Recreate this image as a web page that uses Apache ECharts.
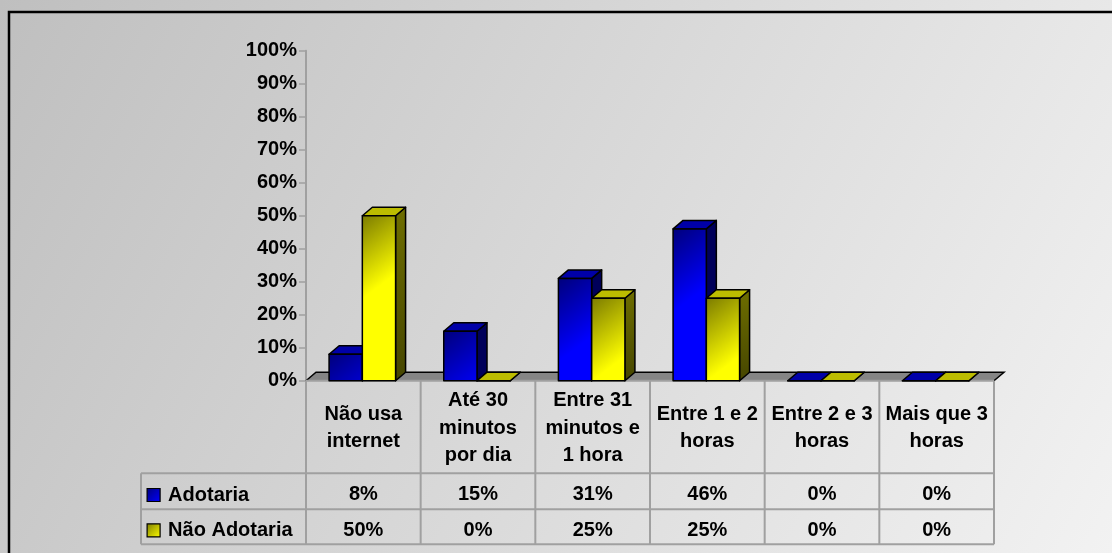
<!DOCTYPE html>
<html>
<head>
<meta charset="utf-8">
<script src="https://cdn.jsdelivr.net/npm/echarts@6.0.0/dist/echarts.min.js"></script>
<style>
  html, body { margin: 0; padding: 0; }
  #chart { width: 1112px; height: 553px; }
</style>
</head>
<body>
<div id="chart"></div>
<script>
// Categories (header row of the data table, line breaks as printed)
const categories = [
  'Não usa\ninternet',
  'Até 30\nminutos\npor dia',
  'Entre 31\nminutos e\n1 hora',
  'Entre 1 e 2\nhoras',
  'Entre 2 e 3\nhoras',
  'Mais que 3\nhoras'
];
const seriesNames = ['Adotaria', 'Não Adotaria'];
// Percentages per category
const adotaria = [8, 15, 31, 46, 0, 0];
const naoAdotaria = [50, 0, 25, 25, 0, 0];

const FONT = '"Liberation Sans", Arial, sans-serif';
const DX = 10, DY = -8.5;          // depth offset of the 3D columns and floor
const G = echarts.graphic;

const palettes = [
  {
    dark: '#00007c', bright: '#0000ff',
    side: '#00005a',
    top: '#0000a8'
  },
  {
    dark: '#7c7c00', bright: '#ffff00',
    side: new G.LinearGradient(0, 0, 0, 1, [
      { offset: 0, color: '#6e6e00' }, { offset: 1, color: '#464600' }
    ]),
    top: '#bcbc00'
  }
];
// Swatch fill used by the legend keys
palettes.forEach(function (p) {
  p.swatch = new G.LinearGradient(0, 0, 1, 1, [
    { offset: 0, color: p.dark }, { offset: 1, color: p.bright }
  ]);
});

// One 3D column: front face, right side face and top face
function barRenderer(idx) {
  const pal = palettes[idx];
  return function (params, api) {
    const i = api.value(0), v = api.value(1);
    const base = api.coord([i, 0]);
    const top = api.coord([i, v]);
    const band = api.size([1, 0])[0];
    const w = band * 0.29;
    const x0 = (idx === 0 ? base[0] - w : base[0]) - 1;
    const x1 = x0 + w;
    const y0 = base[1], y1 = top[1];
    // front face shading: dark at the top-left corner, full colour further down-right
    const front = new G.LinearGradient(x0, y1, x0 + w * 1.2, y1 + w * 1.6, [
      { offset: 0, color: pal.dark }, { offset: 1, color: pal.bright }
    ], true);
    const st = (fill) => ({ fill: fill, stroke: '#000', lineWidth: 1.5, lineJoin: 'round' });
    return {
      type: 'group',
      children: [
        { type: 'polygon', shape: { points: [[x1, y1], [x1 + DX, y1 + DY], [x1 + DX, y0 + DY], [x1, y0]] }, style: st(pal.side) },
        { type: 'polygon', shape: { points: [[x0, y1], [x0 + DX, y1 + DY], [x1 + DX, y1 + DY], [x1, y1]] }, style: st(pal.top) },
        { type: 'rect', shape: { x: x0, y: y1, width: w, height: y0 - y1 }, style: st(front) }
      ]
    };
  };
}

// Gray floor under the columns
function floorRenderer(params, api) {
  const cs = params.coordSys;
  const yb = cs.y + cs.height;
  const xl = cs.x, xr = cs.x + cs.width;
  return {
    type: 'group',
    children: [
      { type: 'polygon', shape: { points: [[xl, yb], [xl + DX, yb + DY], [xr + DX, yb + DY], [xr, yb]] },
        style: { fill: '#858585' } },
      { type: 'polyline', shape: { points: [[xl, yb], [xl + DX, yb + DY], [xr + DX, yb + DY], [xr, yb]] },
        style: { fill: null, stroke: '#000', lineWidth: 1.5 } },
      { type: 'line', shape: { x1: xl, y1: yb, x2: xr, y2: yb }, style: { stroke: '#a0a0a0', lineWidth: 2 } }
    ]
  };
}

// Data table below the plot: one column per category
function tableRenderer(params, api) {
  const i = api.value(0);
  const cs = params.coordSys;
  const band = api.size([1, 0])[0];
  const cx = api.coord([i, 0])[0];
  const yTop = cs.y + cs.height;
  const yHead = yTop + 92.6, yR1 = yHead + 36, yR2 = yR1 + 35;
  const ls = { stroke: '#a0a0a0', lineWidth: 2 };
  const ts = (text, y) => ({
    type: 'text',
    style: {
      text: text, x: cx, y: y, align: 'center', verticalAlign: 'middle',
      fontSize: 20, fontWeight: 'bold', fontFamily: FONT, fill: '#000', lineHeight: 27.4
    }
  });
  const kids = [
    { type: 'line', shape: { x1: cx - band / 2, y1: yTop, x2: cx - band / 2, y2: yR2 }, style: ls },
    ts(categories[i], (yTop + yHead) / 2 + 1),
    ts(adotaria[i] + '%', (yHead + yR1) / 2 + 3.5),
    ts(naoAdotaria[i] + '%', (yR1 + yR2) / 2 + 3.5)
  ];
  if (i === categories.length - 1) {
    kids.push({ type: 'line', shape: { x1: cx + band / 2, y1: yTop, x2: cx + band / 2, y2: yR2 }, style: ls });
  }
  if (i === 0) {
    const xl = cs.x - 165, xr = cs.x + cs.width;
    [yHead, yR1, yR2].forEach(function (y) {
      kids.push({ type: 'line', shape: { x1: xl, y1: y, x2: xr, y2: y }, style: ls });
    });
    kids.push({ type: 'line', shape: { x1: xl, y1: yHead, x2: xl, y2: yR2 }, style: ls });
  }
  return { type: 'group', children: kids };
}

const chart = echarts.init(document.getElementById('chart'), null, { renderer: 'canvas' });
chart.setOption({
  animation: false,
  backgroundColor: new G.LinearGradient(0, 0, 1, 1, [
    { offset: 0, color: '#bfbfbf' }, { offset: 1, color: '#f2f2f2' }
  ]),
  graphic: [{
    type: 'rect', shape: { x: 9, y: 12, width: 1200, height: 700 },
    style: { fill: null, stroke: '#000', lineWidth: 2.5 }, z: 100
  }],
  grid: { left: 306, right: 118, top: 50.7, bottom: 172.3 },
  legend: {
    orient: 'vertical', left: 141.5, top: 479,
    itemWidth: 13, itemHeight: 13, itemGap: 13.4, icon: 'rect',
    itemStyle: { borderColor: '#000', borderWidth: 1.2 },
    textStyle: { fontSize: 20, fontWeight: 'bold', fontFamily: FONT, color: '#000', lineHeight: 22, padding: [0, 0, 0, 3] },
    data: seriesNames
  },
  xAxis: {
    type: 'category', data: categories,
    axisLine: { show: false }, axisTick: { show: false }, axisLabel: { show: false }, splitLine: { show: false }
  },
  yAxis: {
    type: 'value', min: 0, max: 100, interval: 10,
    axisLine: { show: true, lineStyle: { color: '#a0a0a0', width: 2 } },
    axisTick: { show: true, length: 7, lineStyle: { color: '#a0a0a0', width: 1.5 } },
    axisLabel: {
      formatter: '{value}%', margin: 9, padding: [4, 0, 0, 0],
      fontSize: 20, fontWeight: 'bold', fontFamily: FONT, color: '#000'
    },
    splitLine: { show: false }
  },
  series: [
    { type: 'custom', name: 'floor', renderItem: floorRenderer, data: [[0, 0]], z: 1, silent: true },
    {
      type: 'custom', name: seriesNames[0], renderItem: barRenderer(0), z: 2,
      itemStyle: { color: palettes[0].swatch },
      data: adotaria.map((v, i) => [i, v])
    },
    {
      type: 'custom', name: seriesNames[1], renderItem: barRenderer(1), z: 3,
      itemStyle: { color: palettes[1].swatch },
      data: naoAdotaria.map((v, i) => [i, v])
    },
    { type: 'custom', name: 'table', renderItem: tableRenderer, data: categories.map((c, i) => [i, 0]), z: 4, silent: true }
  ]
});
</script>
</body>
</html>
